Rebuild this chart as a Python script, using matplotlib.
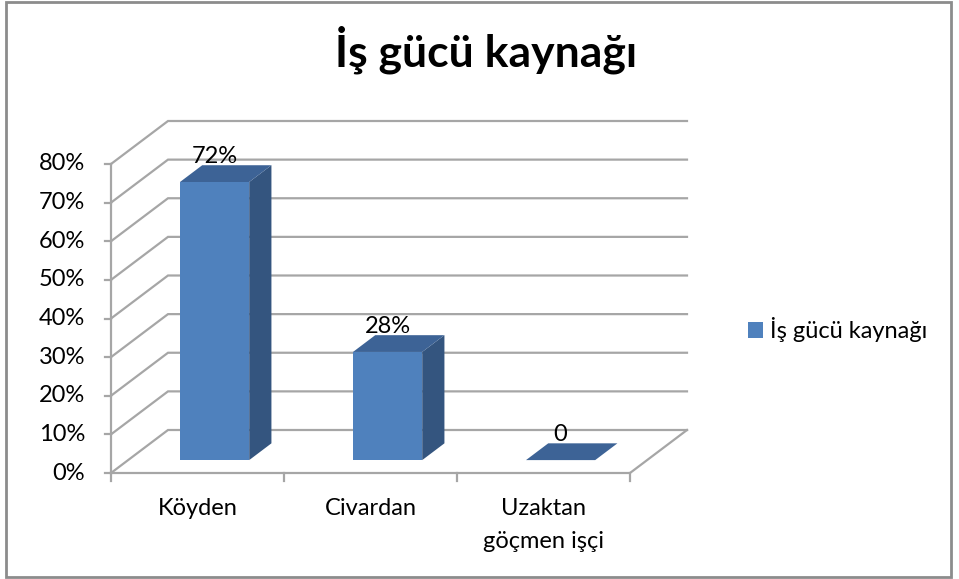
import matplotlib
matplotlib.use("Agg")
import matplotlib.pyplot as plt
from matplotlib.patches import Polygon, Rectangle, Patch
import numpy as np

# ---- data ----
categories = ["Köyden", "Civardan", "Uzaktan\ngöçmen işçi"]
values = [0.72, 0.28, 0.0]
value_labels = ["72%", "28%", "0"]
y_ticks = [0.0, 0.1, 0.2, 0.3, 0.4, 0.5, 0.6, 0.7, 0.8]
y_tick_labels = ["0%", "10%", "20%", "30%", "40%", "50%", "60%", "70%", "80%"]
title = "İş gücü kaynağı"
series_name = "İş gücü kaynağı"

FONT = ["Lato", "DejaVu Sans"]
plt.rcParams['font.family'] = FONT

W, H = 959, 579
fig = plt.figure(figsize=(W / 100, H / 100), dpi=100)

# front plane of plot area (pixels)
x0p, x1p = 111, 630
y0p, y1p = 473, 164
ax = fig.add_axes([x0p / W, 1 - y0p / H, (x1p - x0p) / W, (y0p - y1p) / H])
ax.set_xlim(0, len(categories))
ax.set_ylim(0, 0.8)
ax.axis("off")

# depth (in pixels) converted to data units via axes scale
DEPTH_PX = (57, 43)
ax_w_px = x1p - x0p
ax_h_px = y0p - y1p
DX = DEPTH_PX[0] * len(categories) / ax_w_px
DY = DEPTH_PX[1] * 0.8 / ax_h_px

def P(x, v, f):
    return (x + f * DX, v + f * DY)

grid_c = "#A6A6A6"
ncat = len(categories)

# gridlines (side wall + back wall)
for v in y_ticks:
    a = P(0, v, 0); b = P(0, v, 1); c = P(ncat, v, 1)
    ax.plot([a[0], b[0], c[0]], [a[1], b[1], c[1]], color=grid_c, lw=1.6,
            solid_joinstyle="miter", clip_on=False, zorder=1)
# floor front and right edge
a = P(0, 0, 0); b = P(ncat, 0, 0); c = P(ncat, 0, 1)
ax.plot([a[0], b[0], c[0]], [a[1], b[1], c[1]], color=grid_c, lw=1.6, clip_on=False, zorder=1)
# vertical axis line
ax.plot([0, 0], [0, 0.8], color=grid_c, lw=1.6, clip_on=False, zorder=1)

# ticks
tick_len_x = 6 * ncat / ax_w_px
tick_len_y = 8 * 0.8 / ax_h_px
for v, lab in zip(y_ticks, y_tick_labels):
    ax.plot([-tick_len_x, 0], [v, v], color=grid_c, lw=1.6, clip_on=False)
    ax.annotate(lab, (0, v), xytext=(-26, 0), textcoords="offset pixels",
                ha="right", va="center", fontsize=17, color="black")
for i in range(ncat + 1):
    ax.plot([i, i], [0, -tick_len_y], color=grid_c, lw=1.6, clip_on=False)

# bars
f0, f1 = 0.3, 0.69
bw = 0.4
front_c = "#4F81BD"
side_c = "#34557F"
top_c = "#3D6396"
for i, (v, lab) in enumerate(zip(values, value_labels)):
    xc = i + 0.5
    xl, xr = xc - bw / 2, xc + bw / 2
    # side face
    side = [P(xr, 0, f0), P(xr, v, f0), P(xr, v, f1), P(xr, 0, f1)]
    ax.add_patch(Polygon(side, closed=True, facecolor=side_c, edgecolor="none", zorder=3, clip_on=False))
    # front face
    fl = P(xl, 0, f0)
    ax.add_patch(Rectangle(fl, bw, v, facecolor=front_c, edgecolor="none", zorder=4, clip_on=False))
    # top face
    top = [P(xl, v, f0), P(xr, v, f0), P(xr, v, f1), P(xl, v, f1)]
    ax.add_patch(Polygon(top, closed=True, facecolor=top_c, edgecolor="none", zorder=5, clip_on=False))
    lx, ly = P(xc, v, f0)
    ax.annotate(lab, (lx, ly), xytext=(0, 19), textcoords="offset pixels",
                ha="center", va="baseline", fontsize=17, color="black", zorder=6)
    ax.annotate(categories[i], (xc, 0), xytext=(0, -25), textcoords="offset pixels",
                ha="center", va="top", fontsize=17, color="black", linespacing=1.7)

# title
fig.text(486 / W, 1 - 66 / H, title, ha="center", va="baseline",
         fontsize=32, fontweight="bold", color="black")

# legend
fig.legend(handles=[Patch(facecolor=front_c, edgecolor="none", label=series_name)],
           loc="center left", bbox_to_anchor=(748 / W, 1 - 330 / H),
           frameon=False, fontsize=17, handlelength=0.65, handleheight=0.65,
           handletextpad=0.3, borderpad=0, borderaxespad=0)

# outer border
fig.patches.append(Rectangle((6 / W, 2 / H), (951 - 6) / W, (577 - 2) / H,
                             transform=fig.transFigure, fill=False,
                             edgecolor="#8C8C8C", lw=2))

fig.savefig("out.png", dpi=100)
